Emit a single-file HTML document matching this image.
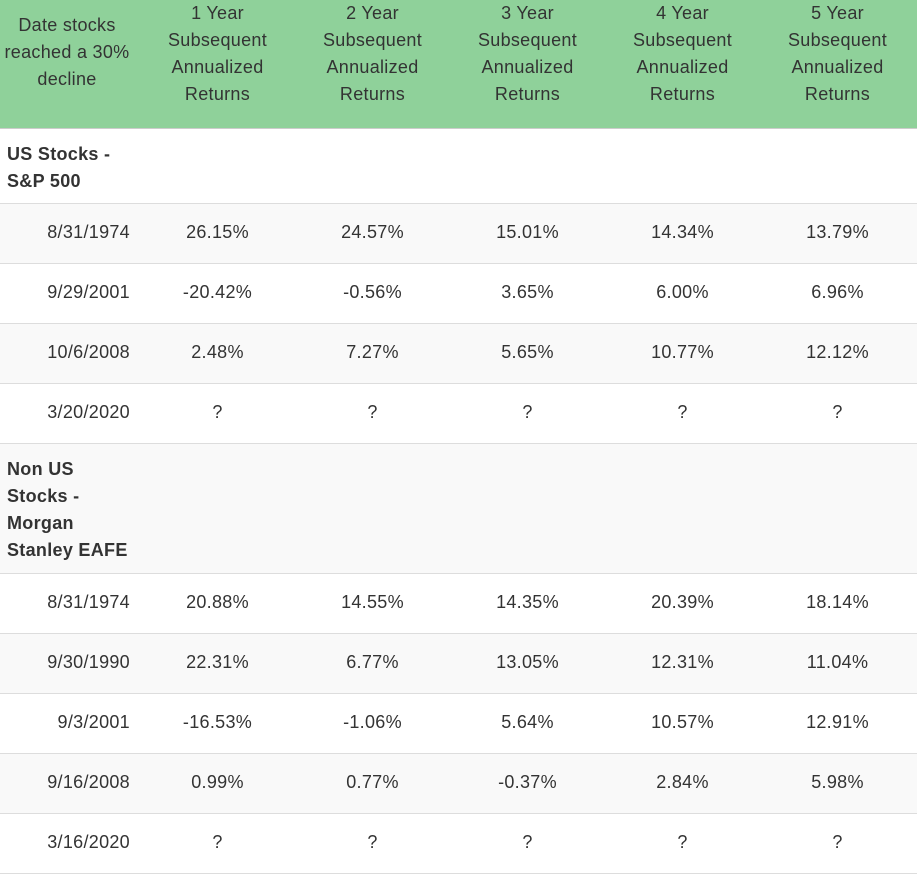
<!DOCTYPE html>
<html><head><meta charset="utf-8"><style>
body{margin:0;width:917px;height:864px;overflow:hidden;background:#fff;font-family:"Liberation Sans",sans-serif;color:#333;font-size:18px;letter-spacing:0.3px}
.row{position:absolute;left:0;width:917px;border-bottom:1px solid #ddd;box-sizing:border-box}
.g{background:#f9f9f9}
.c{position:absolute;text-align:center;width:155px;line-height:27px}
.d{position:absolute;right:787px;text-align:right;line-height:27px}
.hd{position:absolute;left:7px;top:12px;font-weight:bold;line-height:27px}
</style></head><body>
<div class="row" style="top:0;height:129px;background:#8fd19a;border-bottom:1px solid #ccc">
<div class="c" style="left:-8px;width:150px;top:12px">Date stocks reached a 30% decline</div>
<div class="c" style="left:140px;top:0">1 Year Subsequent Annualized Returns</div>
<div class="c" style="left:295px;top:0">2 Year Subsequent Annualized Returns</div>
<div class="c" style="left:450px;top:0">3 Year Subsequent Annualized Returns</div>
<div class="c" style="left:605px;top:0">4 Year Subsequent Annualized Returns</div>
<div class="c" style="left:760px;top:0">5 Year Subsequent Annualized Returns</div>
</div>
<div id="body"></div>
<script>
const sections=[
 {title:"US Stocks -<br>S&amp;P 500",h:75,rows:[
  ["8/31/1974","26.15%","24.57%","15.01%","14.34%","13.79%"],
  ["9/29/2001","-20.42%","-0.56%","3.65%","6.00%","6.96%"],
  ["10/6/2008","2.48%","7.27%","5.65%","10.77%","12.12%"],
  ["3/20/2020","?","?","?","?","?"]]},
 {title:"Non US<br>Stocks -<br>Morgan<br>Stanley EAFE",h:130,rows:[
  ["8/31/1974","20.88%","14.55%","14.35%","20.39%","18.14%"],
  ["9/30/1990","22.31%","6.77%","13.05%","12.31%","11.04%"],
  ["9/3/2001","-16.53%","-1.06%","5.64%","10.57%","12.91%"],
  ["9/16/2008","0.99%","0.77%","-0.37%","2.84%","5.98%"],
  ["3/16/2020","?","?","?","?","?"]]}
];
let y=129,idx=0,html="";
sections.forEach((s,si)=>{
 html+=`<div class="row${idx%2?' g':''}" style="top:${y}px;height:${s.h}px"><div class="hd">${s.title}</div></div>`;
 y+=s.h;idx++;
 s.rows.forEach((r,ri)=>{
  let cells=`<div class="d" style="top:15px">${r[0]}</div>`;
  for(let k=1;k<6;k++)cells+=`<div class="c" style="left:${140+155*(k-1)}px;top:15px">${r[k]}</div>`;
  html+=`<div class="row${idx%2?' g':''}" style="top:${y}px;height:60px">${cells}</div>`;
  y+=60;idx++;
 });
});
document.getElementById('body').innerHTML=html;
</script>
</body></html>
